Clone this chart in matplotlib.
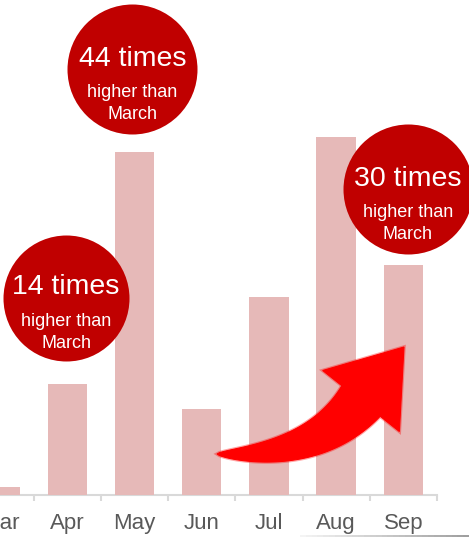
import numpy as np
import matplotlib
matplotlib.use('Agg')
import matplotlib.pyplot as plt
from matplotlib.patches import Polygon
from matplotlib.collections import LineCollection
import matplotlib.patheffects as pe
from matplotlib.colors import to_rgb

# ---- data ----
months = ['Mar', 'Apr', 'May', 'Jun', 'Jul', 'Aug', 'Sep']
values = [0.78, 11.05, 34.3, 8.6, 19.8, 35.8, 22.95]
callout_multiples = [14, 44, 30]
callout_months = ['Apr', 'May', 'Sep']
callout_sub = ['higher than', 'March']

W, H, DPI = 469, 537, 100
BAR = '#e6b9b8'
RED = '#c00000'
ARROW = '#ff0000'
GRAY_TXT = '#595959'
AX_LINE = '#d9d9d9'
FONT = 'Liberation Sans'

fig = plt.figure(figsize=(W / DPI, H / DPI), dpi=DPI)
base_px = 494.5
ax = fig.add_axes([0, (H - base_px) / H, 437 / W, base_px / H])

x = np.arange(len(months))
ax.bar(x, values, width=0.585, color=BAR, zorder=2)
ax.set_xlim(0, 6.5)
ax.set_ylim(0, base_px / 10)

for s in ['top', 'right', 'left']:
    ax.spines[s].set_visible(False)
ax.spines['bottom'].set_color(AX_LINE)
ax.spines['bottom'].set_linewidth(1.5)
ax.spines['bottom'].set_zorder(1)
ax.set_yticks([])
ax.set_xticks(x)
ax.set_xticklabels(months, fontsize=16, color=GRAY_TXT, family=FONT)
ax.tick_params(axis='x', which='major', length=0, pad=13.4)
ax.set_xticks(x + 0.5, minor=True)
ax.tick_params(axis='x', which='minor', length=4.5, width=1.5, color=AX_LINE)

# ---- callout circles ----
circle_pos = {'Apr': (0.982, 19.7, 126), 'May': (1.968, 42.55, 130), 'Sep': (6.064, 30.55, 130)}
for mult, m in zip(callout_multiples, callout_months):
    cx, cy, d = circle_pos[m]
    ax.scatter([cx], [cy], s=(d * 72 / DPI) ** 2, color=RED, zorder=6,
               clip_on=False, linewidths=0)
    ax.annotate(f'{mult} times', (cx, cy), xytext=(0, 3), textcoords='offset pixels',
                ha='center', va='baseline', fontsize=20.5, color='white',
                family=FONT, zorder=7, annotation_clip=False)
    ax.annotate(callout_sub[0], (cx, cy), xytext=(0, -28), textcoords='offset pixels',
                ha='center', va='baseline', fontsize=13, color='white',
                family=FONT, zorder=7, annotation_clip=False)
    ax.annotate(callout_sub[1], (cx, cy), xytext=(0, -50), textcoords='offset pixels',
                ha='center', va='baseline', fontsize=13, color='white',
                family=FONT, zorder=7, annotation_clip=False)

# ---- curved growth arrow (Jun -> Sep) ----
def swoosh_arrow(ax, tail, ctrl, base, tip, body_w, head_w):
    T = ax.transData
    p0, p1, p2, pt = [np.array(T.transform(p)) for p in (tail, ctrl, base, tip)]
    t = np.linspace(0, 1, 80)
    c = ((1 - t) ** 2)[:, None] * p0 + (2 * (1 - t) * t)[:, None] * p1 + (t ** 2)[:, None] * p2
    dv = (2 * (1 - t))[:, None] * (p1 - p0) + (2 * t)[:, None] * (p2 - p1)
    nv = np.stack([-dv[:, 1], dv[:, 0]], 1)
    nv /= np.linalg.norm(nv, axis=1)[:, None]
    w = body_w / 2 * t ** 0.65
    left = c + nv * w[:, None]
    right = c - nv * w[:, None]
    hd = pt - p2
    hd /= np.linalg.norm(hd)
    hn = np.array([-hd[1], hd[0]])
    b1 = p2 + hn * head_w / 2
    b2 = p2 - hn * head_w / 2
    poly = np.vstack([left, b1, pt, b2, right[::-1]])
    poly_d = T.inverted().transform(poly)
    patch = Polygon(poly_d, closed=True, facecolor=ARROW, edgecolor=ARROW,
                    linewidth=0.8, zorder=4, transform=ax.transData)
    patch.set_path_effects([pe.Stroke(linewidth=2.5, foreground=ARROW, alpha=0.35), pe.Normal()])
    ax.add_patch(patch)

swoosh_arrow(ax, tail=(3.228, 4.05), ctrl=(4.694, 3.65), base=(5.370, 9.35),
             tip=(6.009, 14.75), body_w=49, head_w=98)

# ---- faint divider line at bottom right ----
xs = np.linspace(300, W, 30)
segs = [[((xs[i]) / W, 1.3 / H), ((xs[i + 1]) / W, 1.3 / H)] for i in range(len(xs) - 1)]
c0, c1 = np.array(to_rgb('#f2f2f2')), np.array(to_rgb('#8c8c8c'))
cols = [tuple(c0 + (c1 - c0) * f) for f in np.linspace(0, 1, len(segs))]
lc = LineCollection(segs, colors=cols, linewidths=1.2, transform=fig.transFigure)
fig.add_artist(lc)

fig.savefig('out.png', dpi=DPI)
